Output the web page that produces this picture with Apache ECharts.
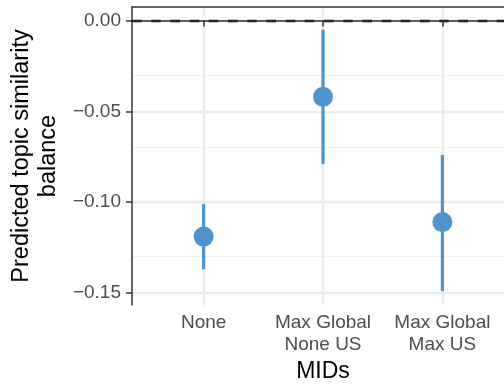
<!DOCTYPE html>
<html>
<head>
<meta charset="utf-8">
<script src="https://cdn.jsdelivr.net/npm/echarts@6/dist/echarts.min.js"></script>
<style>
  html, body { margin: 0; padding: 0; background: #ffffff; }
  #chart { width: 504px; height: 385px; }
</style>
</head>
<body>
<div id="chart"></div>
<script>
// MID categories on the x axis (positions 1..3)
const categories = ['None', 'Max Global\nNone US', 'Max Global\nMax US'];
const positions = [1, 2, 3];
// Predicted topic similarity balance with confidence bounds
const estimate = [-0.119, -0.042, -0.111];
const lower = [-0.137, -0.079, -0.149];
const upper = [-0.101, -0.005, -0.074];
// Axis ticks
const yMajorTicks = [0, -0.05, -0.10, -0.15];
const yMinorTicks = [-0.025, -0.075, -0.125];
const refLine = 0;

const FONT = "'Liberation Sans', Arial, Helvetica, sans-serif";
const BLUE = '#4F94CD';
const INK = '#333333';

const fmtY = v => {
  const s = Math.abs(v).toFixed(2);
  return v < -1e-9 ? '\u2212' + s : s;
};

const gridLines = []
  .concat(yMinorTicks.map(v => ({ yAxis: v, lineStyle: { color: '#F0F0F0', width: 1.2, type: 'solid' } })))
  .concat(yMajorTicks.map(v => ({ yAxis: v, lineStyle: { color: '#EBEBEB', width: 2.4, type: 'solid' } })))
  .concat(positions.map(p => ({ xAxis: p, lineStyle: { color: '#EBEBEB', width: 2.4, type: 'solid' } })));

const chart = echarts.init(document.getElementById('chart'), null, { renderer: 'canvas' });

chart.setOption({
  animation: false,
  backgroundColor: '#ffffff',
  textStyle: { fontFamily: FONT },
  grid: { left: 132, top: 7, width: 382, height: 298, show: false, containLabel: false, outerBoundsMode: 'none' },
  xAxis: [{
    type: 'value',
    min: 0.4,
    max: 3.6,
    position: 'bottom',
    z: 10,
    name: 'MIDs',
    nameLocation: 'middle',
    nameGap: 54,
    nameTextStyle: { fontSize: 23, color: '#000000', fontFamily: FONT, verticalAlign: 'top' },
    axisLine: { show: true, lineStyle: { color: INK, width: 1.5 } },
    axisTick: { show: true, customValues: positions, length: 6, lineStyle: { color: INK, width: 1.5 } },
    axisLabel: {
      customValues: positions,
      formatter: v => categories[Math.round(v) - 1] || '',
      fontSize: 19,
      lineHeight: 21.6,
      color: '#4D4D4D',
      margin: 7,
      fontFamily: FONT,
      align: 'center',
      verticalAlign: 'top',
      hideOverlap: false
    },
    splitLine: { show: false }
  }, {
    type: 'value',
    min: 0.4,
    max: 3.6,
    position: 'top',
    z: 10,
    axisLine: { show: true, lineStyle: { color: INK, width: 1.5 } },
    axisTick: { show: false },
    axisLabel: { show: false },
    splitLine: { show: false }
  }],
  yAxis: {
    type: 'value',
    min: -0.15666,
    max: 0.00746,
    z: 10,
    name: 'Predicted topic similarity\nbalance',
    nameLocation: 'middle',
    nameRotate: 90,
    nameGap: 63,
    nameTextStyle: { fontSize: 23.5, lineHeight: 27, color: '#000000', fontFamily: FONT, align: 'center' },
    axisLine: { show: true, lineStyle: { color: INK, width: 1.5 } },
    axisTick: { show: true, customValues: yMajorTicks, length: 6, lineStyle: { color: INK, width: 1.5 } },
    axisLabel: {
      customValues: yMajorTicks,
      formatter: fmtY,
      fontSize: 19,
      color: '#4D4D4D',
      margin: 11,
      fontFamily: FONT
    },
    splitLine: { show: false }
  },
  series: [
    {
      // panel grid lines
      type: 'line',
      data: [],
      z: 1,
      silent: true,
      markLine: {
        z: 1,
        silent: true,
        symbol: 'none',
        label: { show: false },
        animation: false,
        data: gridLines
      }
    },
    {
      // dashed reference line at zero
      type: 'line',
      data: [],
      z: 2,
      silent: true,
      markLine: {
        z: 2,
        silent: true,
        symbol: 'none',
        label: { show: false },
        animation: false,
        data: [{ yAxis: refLine, lineStyle: { color: '#000000', width: 2.4, type: [9.6, 9.6] } }]
      }
    },
    {
      // confidence intervals
      type: 'custom',
      z: 3,
      data: positions.map((p, i) => [p, lower[i], upper[i]]),
      encode: { x: 0, y: [1, 2] },
      renderItem: (params, api) => {
        const a = api.coord([api.value(0), api.value(1)]);
        const b = api.coord([api.value(0), api.value(2)]);
        return {
          type: 'line',
          shape: { x1: a[0], y1: a[1], x2: b[0], y2: b[1] },
          style: { stroke: BLUE, lineWidth: 3.2 }
        };
      }
    },
    {
      // point estimates
      type: 'scatter',
      z: 4,
      symbol: 'circle',
      symbolSize: 20,
      itemStyle: { color: BLUE, opacity: 1 },
      data: positions.map((p, i) => [p, estimate[i]])
    }
  ]
});
</script>
</body>
</html>
